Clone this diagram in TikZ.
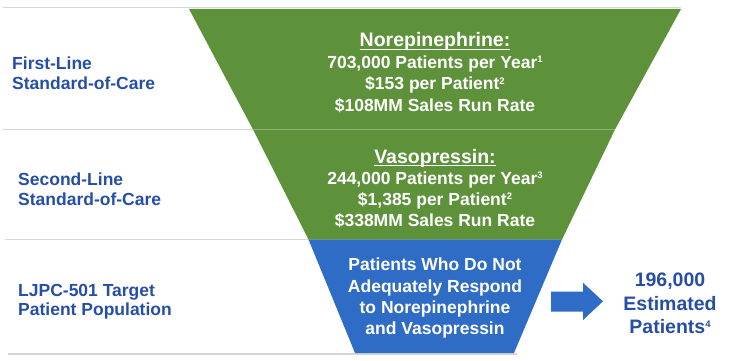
\documentclass[tikz,border=0pt]{standalone}
\usepackage{fontspec}
\setmainfont{Liberation Sans}
\definecolor{fgreen}{RGB}{94,146,58}
\definecolor{fblue}{RGB}{47,108,198}
\definecolor{lblue}{RGB}{38,78,166}
\definecolor{lgray}{RGB}{214,214,214}
\newcommand\myul[1]{\leavevmode\setbox0\hbox{#1}\rlap{\rule[-3.4pt]{\wd0}{1.3pt}}\box0}
\newcommand\mysup[1]{\raisebox{5.5pt}{\fontsize{9.5}{10}\selectfont #1}}
\tikzset{
  body/.style={anchor=base, text=white, font=\bfseries\fontsize{17.5}{21}\selectfont, inner sep=0pt},
  ttl/.style={anchor=base, text=white, font=\bfseries\fontsize{19.5}{23}\selectfont, inner sep=0pt},
  lbl/.style={anchor=base west, text=lblue, font=\bfseries\fontsize{17.5}{21}\selectfont, inner sep=0pt},
  rt/.style={anchor=base, text=lblue, font=\bfseries\fontsize{19.5}{23}\selectfont, inner sep=0pt},
  sep/.style={draw=lgray, line width=1.4pt},
}
\begin{document}
\begin{tikzpicture}[x=1pt,y=-1pt]
\useasboundingbox (0,0) rectangle (736,361);
% separator lines
\draw[sep] (3,7.5) -- (681,7.5);
\draw[sep] (3,129.5) -- (615,129.5);
\draw[sep] (5,239.5) -- (563,239.5);
\draw[sep] (8,354) -- (517,354);
% funnel
\fill[fgreen] (189,9) -- (681,9) -- (615,129.5) -- (562,239.5) -- (308.5,239.5) -- (253,129.5) -- cycle;
\fill[fblue] (308.5,239.5) -- (562,239.5) -- (514,353) -- (355,353) -- cycle;
\draw[white, opacity=0.3, line width=1.2pt] (253,129.5) -- (615,129.5);
% block 1
\node[ttl]  (n0) at (435,46.5) {\myul{Norepinephrine:}};
\node[body] (n1) at (435,68) {703,000 Patients per Year\mysup{1}};
\node[body] (n2) at (435,89.5) {\$153 per Patient\mysup{2}};
\node[body] (n3) at (435,111) {\$108MM Sales Run Rate};
% block 2
\node[ttl]  (v0) at (435,163) {\myul{Vasopressin:}};
\node[body] (v1) at (435,184) {244,000 Patients per Year\mysup{3}};
\node[body] (v2) at (435,205) {\$1,385 per Patient\mysup{2}};
\node[body] (v3) at (435,226) {\$338MM Sales Run Rate};
% block 3
\node[body] (b0) at (435,270.5) {Patients Who Do Not};
\node[body] (b1) at (435,292) {Adequately Respond};
\node[body] (b2) at (435,313) {to Norepinephrine};
\node[body] (b3) at (435,334.5) {and Vasopressin};
% left labels
\node[lbl] (l1a) at (12,70) {First-Line};
\node[lbl] (l1b) at (12,89.5) {Standard-of-Care};
\node[lbl] (l2a) at (18,185.5) {Second-Line};
\node[lbl] (l2b) at (18,205) {Standard-of-Care};
\node[lbl] (l3a) at (18,296) {LJPC-501 Target};
\node[lbl] (l3b) at (18,315) {Patient Population};
% arrow
\fill[fblue] (551,291.7) -- (583,291.7) -- (583,282.7) -- (603,301.3) -- (583,320) -- (583,311.7) -- (551,311.7) -- cycle;
% right text
\node[rt] (r1) at (670,286) {196,000};
\node[rt] (r2) at (670,310) {Estimated};
\node[rt] (r3) at (670,333) {Patients\mysup{4}};
\end{tikzpicture}
\end{document}
